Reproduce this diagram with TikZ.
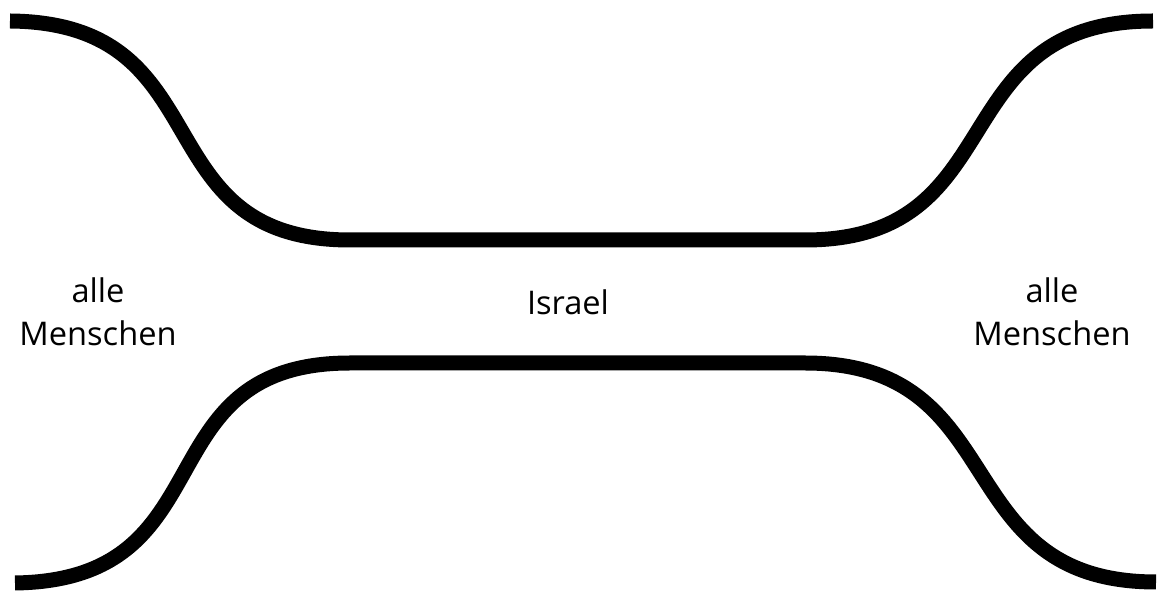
\documentclass[tikz,border=0pt]{standalone}
\usepackage{fontspec}
\setmainfont{Open Sans}
\usetikzlibrary{positioning}

\begin{document}
\begin{tikzpicture}[x=0.5pt,y=-0.5pt,
    wall/.style={line width=7.5pt,black},
    lbl/.style={font=\fontsize{16.3}{21.5}\selectfont,align=center}]
    \useasboundingbox (0,0) rectangle (1158,592);
    % upper border
    \coordinate (tl) at (10,21);
    \coordinate (ta) at (350,240);
    \coordinate (tb) at (805,240);
    \coordinate (tr) at (1153,21);
    % lower border
    \coordinate (bl) at (15,583);
    \coordinate (ba) at (350,363);
    \coordinate (bb) at (805,363);
    \coordinate (br) at (1156,582);
    \draw[wall] (tl) .. controls (225,23) and (140,240) .. (ta) -- (tb)
       .. controls (1015,240) and (940,21) .. (tr);
    \draw[wall] (bl) .. controls (230,580) and (140,363) .. (ba) -- (bb)
       .. controls (1015,363) and (945,582) .. (br);
    \node[lbl] (left) at (98,312) {alle\\Menschen};
    \node[lbl] (mid) at (568,302) {Israel};
    \node[lbl] (right) at (1052,312) {alle\\Menschen};
  \end{tikzpicture}
\end{document}
